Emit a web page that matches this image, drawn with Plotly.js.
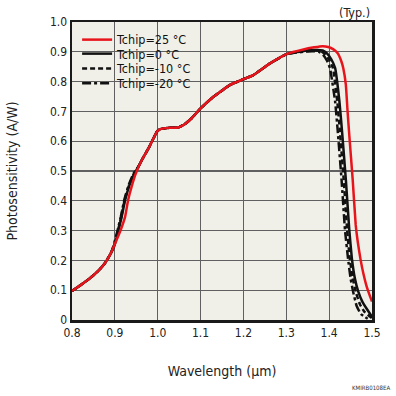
<!DOCTYPE html>
<html>
<head>
<meta charset="utf-8">
<script src="https://cdn.plot.ly/plotly-3.0.1.min.js"></script>
<style>html,body{margin:0;padding:0;background:#fff;}#chart{width:396px;height:396px;}</style>
</head>
<body>
<div id="chart"></div>
<script>
// ---- data ----
const wl25 = [0.80,0.82,0.84,0.86,0.875,0.89,0.90,0.912,0.924,0.931,0.939,0.949,0.963,0.98,0.998,1.005,1.028,1.048,1.063,1.079,1.10,1.13,1.169,1.20,1.223,1.262,1.302,1.34,1.365,1.385,1.398,1.41,1.42,1.428,1.433,1.439,1.443,1.447,1.455,1.462,1.467,1.473,1.48,1.488,1.494,1.50];
const pd25 = [0.097,0.117,0.138,0.163,0.187,0.222,0.255,0.296,0.347,0.403,0.447,0.492,0.537,0.58,0.632,0.64,0.645,0.646,0.657,0.677,0.71,0.749,0.789,0.808,0.822,0.861,0.893,0.908,0.915,0.919,0.916,0.908,0.895,0.87,0.845,0.789,0.70,0.62,0.47,0.319,0.26,0.205,0.155,0.11,0.085,0.062];

const wl0 = [0.80,0.82,0.84,0.86,0.875,0.89,0.899,0.907,0.916,0.924,0.934,0.945,0.955,0.963,0.98,0.998,1.005,1.028,1.048,1.063,1.079,1.10,1.13,1.169,1.20,1.223,1.262,1.302,1.34,1.365,1.385,1.395,1.405,1.414,1.424,1.43,1.439,1.447,1.453,1.46,1.468,1.478,1.488,1.50];
const pd0 = [0.097,0.117,0.138,0.163,0.187,0.222,0.25,0.293,0.347,0.403,0.452,0.49,0.515,0.537,0.58,0.632,0.64,0.645,0.646,0.657,0.677,0.71,0.749,0.789,0.808,0.822,0.861,0.893,0.903,0.906,0.905,0.895,0.875,0.845,0.733,0.635,0.47,0.302,0.207,0.14,0.095,0.06,0.037,0.011];

const wlm10 = [0.80,0.82,0.84,0.86,0.875,0.89,0.898,0.906,0.915,0.923,0.933,0.944,0.955,0.963,0.98,0.998,1.005,1.028,1.048,1.063,1.079,1.10,1.13,1.169,1.20,1.223,1.262,1.302,1.34,1.365,1.38,1.39,1.40,1.409,1.419,1.425,1.434,1.442,1.448,1.455,1.463,1.472,1.482,1.50];
const pdm10 = [0.097,0.117,0.138,0.163,0.187,0.222,0.25,0.293,0.347,0.403,0.452,0.49,0.515,0.537,0.58,0.632,0.64,0.645,0.646,0.657,0.677,0.71,0.749,0.789,0.808,0.822,0.861,0.893,0.902,0.904,0.903,0.893,0.873,0.845,0.733,0.635,0.47,0.302,0.207,0.14,0.09,0.052,0.028,0.006];

const wlm20 = [0.80,0.82,0.84,0.86,0.875,0.89,0.897,0.905,0.914,0.922,0.932,0.943,0.955,0.963,0.98,0.998,1.005,1.028,1.048,1.063,1.079,1.10,1.13,1.169,1.20,1.223,1.262,1.302,1.34,1.36,1.375,1.386,1.395,1.402,1.414,1.42,1.429,1.437,1.444,1.45,1.456,1.464,1.474,1.49];
const pdm20 = [0.097,0.117,0.138,0.163,0.187,0.222,0.25,0.293,0.347,0.403,0.452,0.49,0.515,0.537,0.58,0.632,0.64,0.645,0.646,0.657,0.677,0.71,0.749,0.789,0.808,0.822,0.861,0.893,0.90,0.902,0.901,0.89,0.87,0.845,0.733,0.635,0.47,0.302,0.207,0.14,0.095,0.048,0.02,0.004];

const seriesNames = ["Tchip=25 °C","Tchip=0 °C","Tchip=-10 °C","Tchip=-20 °C"];
const xTickVals = [0.8,0.9,1.0,1.1,1.2,1.3,1.4,1.5];
const xTickText = ["0.8","0.9","1.0","1.1","1.2","1.3","1.4","1.5"];
const yTickVals = [0,0.1,0.2,0.3,0.4,0.5,0.6,0.7,0.8,0.9,1.0];
const yTickText = ["0","0.1","0.2","0.3","0.4","0.5","0.6","0.7","0.8","0.9","1.0"];

const FONT = "DejaVu Sans Condensed, DejaVu Sans, sans-serif";

function tr(x, y, name, color, dash, legend){
  return {x:x, y:y, name:name, type:"scatter", mode:"lines",
    line:{color:color, width:2.5, dash:dash, shape:"spline", smoothing:0.35},
    legend:legend, hoverinfo:"skip"};
}
const data = [
  tr(wlm20, pdm20, seriesNames[3], "#111", "9px,3px,3px,3px", "legend4"),
  tr(wlm10, pdm10, seriesNames[2], "#111", "5px,3px", "legend3"),
  tr(wl0, pd0, seriesNames[1], "#111", "solid", "legend2"),
  tr(wl25, pd25, seriesNames[0], "#e8141c", "solid", "legend")
];

function leg(y){
  return {x:0.017, xanchor:"left", y:y, yanchor:"middle", bgcolor:"rgba(0,0,0,0)",
    borderwidth:0, itemwidth:30, font:{family:FONT, size:12.5, color:"#111"}};
}

const layout = {
  width:396, height:396,
  margin:{l:72, r:24, t:22, b:76},
  paper_bgcolor:"#ffffff", plot_bgcolor:"#f1f0e8",
  font:{family:FONT, color:"#222"},
  xaxis:{range:[0.8,1.5], tickvals:xTickVals, ticktext:xTickText, ticks:"",
    showgrid:true, gridcolor:"#606060", gridwidth:1.2, zeroline:false,
    showline:true, mirror:true, linecolor:"#1a1a1a", linewidth:2.5,
    tickfont:{family:FONT, size:12, color:"#222"},
    title:{text:"Wavelength (µm)", font:{family:FONT, size:14, color:"#222"}, standoff:28}},
  yaxis:{range:[0,1.0], tickvals:yTickVals, ticktext:yTickText, ticks:"",
    showgrid:true, gridcolor:"#606060", gridwidth:1.2, zeroline:false,
    showline:true, mirror:true, linecolor:"#1a1a1a", linewidth:2.5,
    tickfont:{family:FONT, size:12, color:"#222"},
    title:{text:"Photosensitivity (A/W)", font:{family:FONT, size:14, color:"#222"}, standoff:29}},
  showlegend:true,
  legend:leg(0.9396), legend2:leg(0.8926), legend3:leg(0.8423), legend4:leg(0.7936),
  annotations:[
    {text:"(Typ.)", xref:"paper", yref:"paper", x:1, y:1, xanchor:"right", yanchor:"middle", yshift:10,
     showarrow:false, font:{family:FONT, size:12.5, color:"#222"}},
    {text:"KMIRB0108EA", xref:"paper", yref:"paper", x:1.0667, y:0, xanchor:"right", yanchor:"middle", yshift:-67,
     showarrow:false, font:{family:FONT, size:6, color:"#333"}}
  ]
};

Plotly.newPlot("chart", data, layout, {staticPlot:true, displayModeBar:false});
</script>
</body>
</html>
